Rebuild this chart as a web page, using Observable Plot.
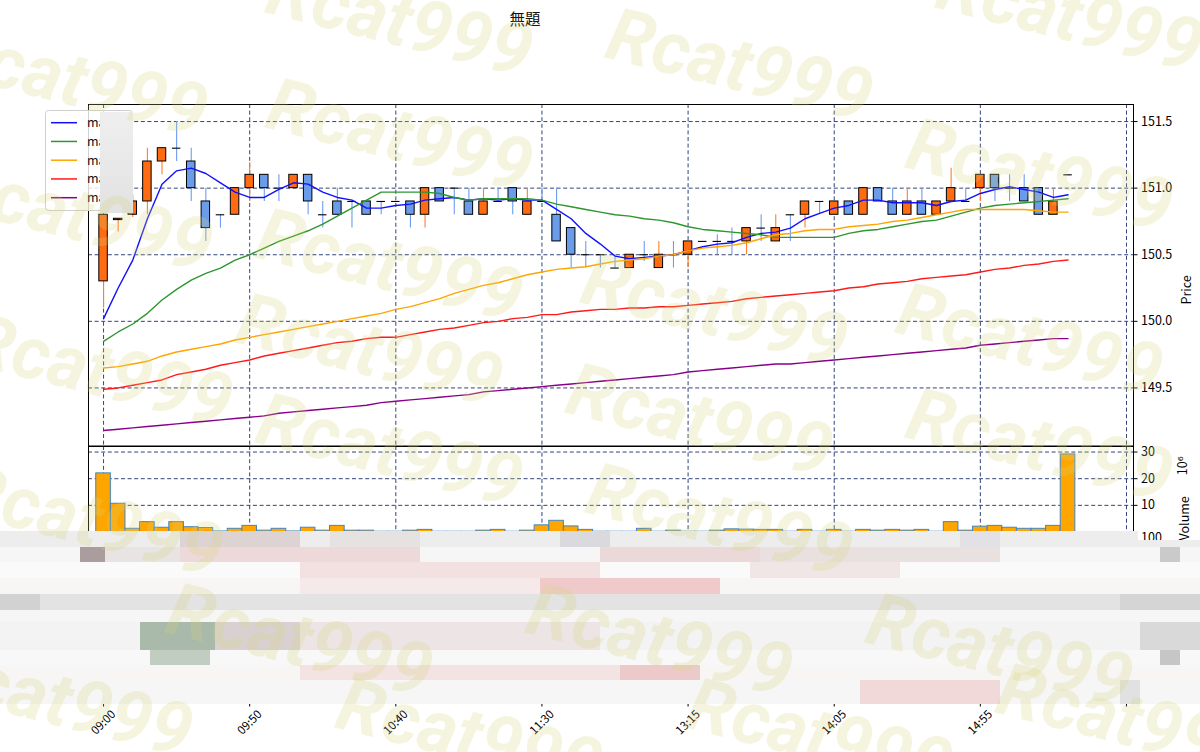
<!DOCTYPE html>
<html lang="ja"><head><meta charset="utf-8"><title>無題</title>
<script src="https://cdn.jsdelivr.net/npm/d3@7"></script>
<script src="https://cdn.jsdelivr.net/npm/@observablehq/plot@0.6"></script>
<style>
html,body{margin:0;padding:0;background:#fff;overflow:hidden;}
#root{position:relative;width:1200px;height:752px;overflow:hidden;background:#fff;}
#root svg{position:absolute;left:0;max-width:none!important;background:transparent!important;overflow:visible;}
</style></head>
<body><div id="root"></div>
<script>
// ---------- data ----------
const title = "無題";
const tickIdx = [0, 10, 20, 30, 40, 50, 60, 70];
const tickLabels = ["09:00", "09:50", "10:40", "11:30", "13:15", "14:05", "14:55", ""];
const priceTicks = [149.5, 150.0, 150.5, 151.0, 151.5];
const volumeTicks = [10, 20, 30];

const opens  = [150.3,150.76,150.8,150.9,151.2,151.3,151.2,150.9,150.8,150.8,151.0,151.1,151.0,151.0,151.1,150.8,150.9,150.9,150.9,150.9,150.9,150.9,150.8,151.0,151.0,150.9,150.8,150.9,151.0,150.8,150.9,150.8,150.7,150.5,150.5,150.4,150.4,150.5,150.4,150.5,150.5,150.6,150.6,150.6,150.6,150.7,150.6,150.8,150.8,150.9,150.8,150.9,150.8,151.0,150.9,150.8,150.9,150.8,150.9,150.9,151.0,151.1,151.0,151.0,151.0,150.8,151.1];
const highs  = [150.8,150.77,150.95,151.3,151.3,151.5,151.3,151.0,150.8,151.0,151.19,151.1,151.1,151.1,151.1,150.9,151.0,150.9,150.9,150.9,150.9,150.9,151.0,151.0,151.0,151.0,151.0,151.0,151.0,151.0,151.0,151.0,150.7,150.6,150.5,150.5,150.5,150.6,150.6,150.6,150.6,150.6,150.65,150.7,150.7,150.8,150.8,150.8,150.9,150.9,150.9,150.9,151.0,151.0,151.0,151.0,151.0,150.9,151.15,151.0,151.1,151.1,151.1,151.1,151.0,151.0,151.1];
const lows   = [150.1,150.67,150.78,150.8,151.1,151.2,150.9,150.6,150.7,150.8,150.9,150.9,150.9,151.0,150.8,150.7,150.8,150.7,150.8,150.8,150.9,150.7,150.7,150.9,150.8,150.8,150.8,150.9,150.8,150.8,150.9,150.6,150.4,150.4,150.4,150.4,150.4,150.45,150.4,150.4,150.4,150.6,150.5,150.5,150.5,150.6,150.6,150.6,150.7,150.8,150.8,150.8,150.8,150.9,150.8,150.8,150.8,150.8,150.9,150.9,150.9,150.9,150.9,150.9,150.8,150.8,151.1];
const closes = [150.8,150.77,150.9,151.2,151.3,151.3,151.0,150.7,150.8,151.0,151.1,151.0,151.0,151.1,150.9,150.8,150.8,150.9,150.8,150.9,150.9,150.8,151.0,150.9,151.0,150.8,150.9,150.9,150.9,150.9,150.9,150.6,150.5,150.5,150.5,150.4,150.5,150.5,150.5,150.5,150.6,150.6,150.6,150.6,150.7,150.7,150.7,150.8,150.9,150.9,150.9,150.8,151.0,150.9,150.8,150.9,150.8,150.9,151.0,150.9,151.1,151.0,151.0,150.9,150.8,150.9,151.1];
// volume in units of 10^6
const volumes = [22.0,10.6,1.2,3.7,1.6,3.7,1.8,1.5,0.2,1.2,2.3,0.5,1.2,0.2,1.6,0.5,2.3,0.5,0.5,0.1,0.1,0.5,0.8,0.1,0.1,0.1,0.5,0.8,0.1,0.5,2.5,4.2,2.1,0.8,0.1,0.1,0.1,1.2,0.1,0.5,0.1,0.1,0.5,1.0,0.9,0.8,0.8,0.1,0.8,0.1,0.8,0.1,0.8,0.5,0.8,0.5,0.8,0.1,3.7,0.5,2.0,2.3,1.6,1.2,1.2,2.3,29.1];

const maNames = ["ma", "ma", "ma", "ma", "ma"];
const ma1 = [150.02,150.25,150.46,150.77,151.03,151.13,151.15,151.11,151.04,150.97,150.93,150.93,150.99,151.04,151.03,150.97,150.93,150.91,150.85,150.85,150.87,150.88,150.91,150.92,150.93,150.91,150.92,150.91,150.92,150.91,150.91,150.84,150.77,150.66,150.58,150.49,150.47,150.48,150.49,150.50,150.53,150.56,150.58,150.59,150.63,150.66,150.67,150.70,150.77,150.81,150.85,150.87,150.91,150.91,150.89,150.89,150.89,150.87,150.90,150.91,150.96,150.99,151.01,150.99,150.97,150.93,150.95];
const ma2 = [149.85,149.92,149.98,150.06,150.16,150.24,150.31,150.36,150.40,150.46,150.50,150.55,150.60,150.64,150.68,150.73,150.79,150.85,150.91,150.97,150.97,150.97,150.97,150.96,150.93,150.91,150.92,150.92,150.92,150.92,150.91,150.88,150.86,150.84,150.82,150.80,150.79,150.77,150.76,150.74,150.71,150.69,150.68,150.67,150.66,150.65,150.63,150.63,150.63,150.63,150.63,150.66,150.68,150.69,150.71,150.73,150.75,150.76,150.79,150.82,150.85,150.87,150.88,150.89,150.90,150.91,150.92];
const ma3 = [149.65,149.66,149.68,149.70,149.74,149.77,149.79,149.81,149.83,149.86,149.88,149.90,149.92,149.94,149.96,149.98,150.00,150.02,150.04,150.06,150.09,150.11,150.14,150.17,150.21,150.24,150.27,150.29,150.32,150.35,150.37,150.39,150.40,150.41,150.43,150.45,150.46,150.47,150.49,150.50,150.53,150.55,150.56,150.57,150.59,150.62,150.65,150.66,150.68,150.69,150.69,150.71,150.72,150.73,150.75,150.76,150.78,150.80,150.82,150.84,150.84,150.84,150.84,150.84,150.83,150.82,150.82];
const ma4 = [149.49,149.50,149.52,149.54,149.56,149.60,149.62,149.64,149.67,149.69,149.71,149.74,149.76,149.78,149.80,149.82,149.84,149.85,149.87,149.88,149.88,149.90,149.92,149.94,149.95,149.97,149.99,150.00,150.02,150.03,150.05,150.05,150.07,150.08,150.09,150.09,150.10,150.10,150.11,150.11,150.12,150.13,150.14,150.15,150.17,150.18,150.19,150.20,150.21,150.22,150.23,150.25,150.26,150.28,150.29,150.30,150.32,150.33,150.34,150.35,150.37,150.39,150.40,150.42,150.43,150.45,150.46];
const ma5 = [149.18,149.19,149.20,149.21,149.22,149.23,149.24,149.25,149.26,149.27,149.28,149.29,149.31,149.32,149.33,149.34,149.35,149.36,149.37,149.39,149.40,149.41,149.42,149.43,149.44,149.45,149.47,149.48,149.49,149.50,149.51,149.52,149.53,149.54,149.55,149.56,149.57,149.58,149.59,149.60,149.62,149.63,149.64,149.65,149.66,149.67,149.68,149.68,149.69,149.70,149.71,149.72,149.73,149.74,149.75,149.76,149.77,149.78,149.79,149.80,149.82,149.83,149.84,149.85,149.86,149.87,149.87];

// ---------- styling ----------
const FONT = '"Noto Sans CJK JP", "DejaVu Sans", sans-serif';
const UP_BODY = "#ff6b12", DN_BODY = "#6b9cea";
const UP_WICK = "#ff7f2a", DN_WICK = "#6d9cf0";
const GRID = "#1b2f6e";
const maColors = ["#1010ff", "#2e962e", "#ffa500", "#ff1a1a", "#880088"];
const X_DOMAIN = [-1.03, 70.48];
const W = 1200, ML = 88, MR = 67;

const bars = opens.map((o, i) => ({i, o, h: highs[i], l: lows[i], c: closes[i], v: volumes[i]}));
const isUp = d => d.c > d.o;
const gridOpts = {stroke: GRID, strokeOpacity: 1, strokeWidth: 0.9, strokeDasharray: "4,2.6"};
const baseStyle = {fontFamily: FONT, fontSize: "12.5px", color: "#000", background: "transparent", overflow: "visible"};

const root = document.getElementById("root");
function place(svg, top, z) {
  svg.style.top = top + "px"; svg.style.zIndex = z; root.appendChild(svg);
}

// ---------- price panel ----------
const maSeries = [ma1, ma2, ma3, ma4, ma5];
const pricePlot = Plot.plot({
  width: W, height: 445.5, marginLeft: ML, marginRight: MR, marginTop: 104, marginBottom: 0,
  style: baseStyle,
  x: {domain: X_DOMAIN, axis: null},
  y: {domain: [149.064, 151.628], axis: null},
  marks: [
    Plot.gridX(tickIdx, gridOpts),
    Plot.gridY(priceTicks, gridOpts),
    Plot.ruleX(bars, {x: "i", y1: "l", y2: "h", stroke: d => isUp(d) ? UP_WICK : DN_WICK, strokeWidth: 1.1}),
    Plot.rect(bars.filter(d => d.o !== d.c), {
      x1: d => d.i - 0.29, x2: d => d.i + 0.29,
      y1: d => Math.min(d.o, d.c), y2: d => Math.max(d.o, d.c),
      fill: d => isUp(d) ? UP_BODY : DN_BODY, stroke: "#000", strokeWidth: 1
    }),
    Plot.ruleY(bars.filter(d => d.o === d.c), {y: "c", x1: d => d.i - 0.29, x2: d => d.i + 0.29, stroke: "#000", strokeWidth: 1.1}),
    ...maSeries.map((s, k) => Plot.line(s, {x: (d, i) => i, y: d => d, stroke: maColors[k], strokeWidth: 1.4})),
    Plot.axisY(priceTicks, {anchor: "right", tickSize: 3.5, tickPadding: 4, tickFormat: d3.format(".1f"), label: null, fontSize: 12.5}),
    Plot.text(["Price"], {text: d => d, frameAnchor: "right", dx: 53, rotate: -90, fontSize: 12.5}),
    Plot.frame({stroke: "#000", strokeWidth: 1})
  ]
});
place(pricePlot, 0, 1);

// ---------- volume panel ----------
const volPlot = Plot.plot({
  width: W, height: 90, marginLeft: ML, marginRight: MR, marginTop: 1, marginBottom: 3.5,
  style: baseStyle,
  x: {domain: X_DOMAIN, axis: null},
  y: {domain: [0, 32.08], axis: null},
  marks: [
    Plot.gridX(tickIdx, gridOpts),
    Plot.gridY(volumeTicks, gridOpts),
    Plot.rectY(bars, {x1: d => d.i - 0.5, x2: d => d.i + 0.5, y: "v", fill: "#ffa500", stroke: "#3f86c8", strokeWidth: 1}),
    Plot.axisY(volumeTicks, {anchor: "right", tickSize: 3.5, tickPadding: 4, label: null, fontSize: 12.5}),
    Plot.text(["Volume"], {text: d => d, frameAnchor: "right", dx: 51, dy: 7, rotate: -90, fontSize: 12.5}),
    Plot.text(["10⁶"], {text: d => d, frameAnchor: "right", dx: 49, dy: -33, rotate: -90, fontSize: 12.5}),
    Plot.frame({stroke: "#000", strokeWidth: 1})
  ]
});
place(volPlot, 445, 2);

// ---------- bottom panel (x axis) ----------
const bottomPlot = Plot.plot({
  width: W, height: 221, marginLeft: ML, marginRight: MR, marginTop: 6, marginBottom: 49,
  style: baseStyle,
  x: {domain: X_DOMAIN, axis: null},
  y: {domain: [0, 100], axis: null},
  marks: [
    Plot.gridX(tickIdx, gridOpts),
    Plot.axisY([100], {anchor: "right", tickSize: 3.5, tickPadding: 4, label: null, fontSize: 12.5}),
    Plot.axisX(tickIdx, {anchor: "bottom", tickSize: 3.5, tickFormat: () => "", label: null}),
    Plot.text(tickIdx, {x: d => d, text: (d, i) => tickLabels[i], frameAnchor: "bottom", dy: 19, rotate: -45, textAnchor: "middle", lineAnchor: "middle", fontSize: 11.5}),
    Plot.frame({stroke: "#000", strokeWidth: 1})
  ]
});
place(bottomPlot, 531, 3);

// ---------- decorations: title, legend, pixelated band ----------
const deco = d3.create("svg").attr("width", W).attr("height", 752)
  .style("font-family", FONT).style("pointer-events", "none");
deco.append("text").attr("x", 525).attr("y", 25).attr("text-anchor", "middle")
  .attr("font-size", 15.5).attr("fill", "#111").text(title);

const lg = deco.append("g");
lg.append("rect").attr("x", 45.5).attr("y", 110.5).attr("width", 87).attr("height", 100).attr("rx", 3)
  .attr("fill", "#fff").attr("fill-opacity", 0.82).attr("stroke", "#cfcfcf");
maNames.forEach((name, k) => {
  const y = 122.7 + k * 18.75;
  lg.append("line").attr("x1", 51).attr("x2", 77).attr("y1", y).attr("y2", y)
    .attr("stroke", maColors[k]).attr("stroke-width", 1.5);
  lg.append("text").attr("x", 87).attr("y", y + 4.5).attr("font-size", 12.5).attr("fill", "#111").text(name);
});
const gr = deco.append("defs").append("linearGradient").attr("id", "cg").attr("x1", 0).attr("x2", 0).attr("y1", 0).attr("y2", 1);
gr.append("stop").attr("offset", "0").attr("stop-color", "#efefef");
gr.append("stop").attr("offset", "1").attr("stop-color", "#e2e2e2");
lg.append("rect").attr("x", 100).attr("y", 112).attr("width", 33).attr("height", 101).attr("fill", "url(#cg)");

const mosaic = [
  [0,1138,531,547,"#ededed"],[1138,1200,540,547,"#ededed"],
  [180,300,531,547,"#ddd3d3"],[330,420,531,547,"#e6e2e2"],[560,610,531,547,"#dadade"],[960,1000,531,547,"#e2e2e6"],
  [0,1200,547,562,"#f6f6f6"],
  [80,105,547,562,"#ab9d9d"],[105,180,547,562,"#e8e4e4"],[180,420,547,562,"#edd9d9"],[600,760,547,562,"#ebd8d8"],[760,1000,547,562,"#e9e0e0"],[1160,1180,547,562,"#cacaca"],
  [0,1200,562,578,"#fafafa"],[300,600,562,578,"#f3e0e0"],[750,900,562,578,"#f1e6e6"],
  [0,1200,578,594,"#f8f5f5"],[300,540,578,594,"#f6e9e9"],[540,720,578,594,"#f0caca"],
  [0,1200,594,610,"#e3e3e3"],[0,40,594,610,"#d2d2d2"],[1120,1200,594,610,"#d5d5d5"],
  [0,1200,610,622,"#f6f6f6"],
  [0,1200,622,650,"#f3f3f3"],[140,215,622,650,"#a9b9aa"],[215,300,622,650,"#d9d1d1"],[300,600,622,650,"#ede5e5"],[1140,1200,622,650,"#d9d9d9"],
  [0,1200,650,665,"#f8f8f8"],[150,210,650,665,"#c2cdc2"],[1160,1180,650,665,"#c6c6c6"],
  [0,1200,665,680,"#f8f5f5"],[300,620,665,680,"#f3e3e3"],[620,700,665,680,"#edcaca"],
  [0,1200,680,704,"#f6f6f6"],[860,1000,680,704,"#f1d9d9"],[1120,1140,680,704,"#e1e1e1"]
];
deco.append("g").selectAll("rect").data(mosaic).join("rect")
  .attr("x", d => d[0]).attr("y", d => d[2]).attr("width", d => d[1] - d[0]).attr("height", d => d[3] - d[2])
  .attr("fill", d => d[4]);
place(deco.node(), 0, 5);

// ---------- watermark ----------
const wmText = "Rcat999";
const wmPos = [[75,80],[400,20],[740,65],[1070,15],[80,215],[400,135],[1040,175],[390,265],[715,310],[1030,340],[100,370],[370,350],[390,450],[700,420],[1040,445],[90,520],[720,520],[300,640],[660,640],[1000,650],[60,700],[470,735],[820,735],[1130,720]];
const wm = d3.create("svg").attr("width", W).attr("height", 752).style("pointer-events", "none");
wm.append("g").selectAll("text").data(wmPos).join("text")
  .attr("transform", d => `translate(${d[0]},${d[1]}) rotate(14)`)
  .attr("text-anchor", "middle").attr("dominant-baseline", "central")
  .attr("font-family", "Roboto, 'DejaVu Sans', sans-serif").attr("font-weight", 700).attr("font-style", "italic")
  .attr("font-size", 74).attr("fill", "#d4d47a").attr("fill-opacity", 0.24).text(wmText);
place(wm.node(), 0, 9);
</script></body></html>
